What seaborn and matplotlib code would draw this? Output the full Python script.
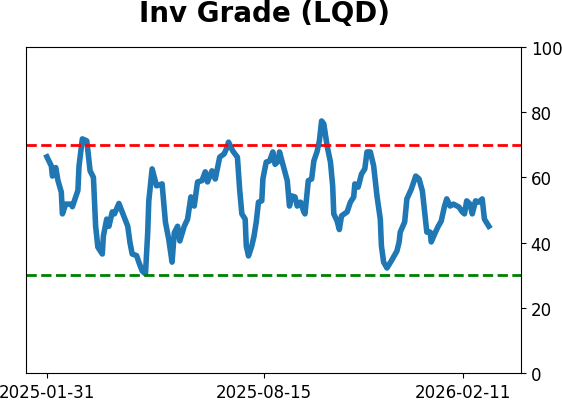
import pandas as pd
import matplotlib
matplotlib.use("Agg")
import matplotlib.pyplot as plt
import seaborn as sns

start = pd.Timestamp("2025-01-31")

# day offsets from 2025-01-31 and indicator values
days = [0, 4, 5, 8, 10, 13, 14, 17, 22, 23, 28, 29, 32, 36, 39, 42, 44, 46, 50, 51,
        54, 56, 59, 61, 65, 68, 73, 75, 77, 81, 83, 86, 89, 91, 92, 95, 99, 104, 107, 110,
        113, 115, 118, 120, 124, 127, 130, 133, 136, 140, 143, 145, 149, 152, 156, 160, 162, 164, 168, 172,
        174, 176, 179, 180, 182, 185, 187, 189, 191, 194, 195, 198, 201, 204, 206, 209, 210, 213, 217, 219,
        221, 224, 226, 229, 232, 233, 236, 239, 241, 244, 246, 248, 250, 253, 256, 258, 259, 262, 264, 266,
        271, 274, 277, 278, 281, 284, 287, 289, 292, 295, 298, 301, 302, 304, 307, 311, 316, 318, 319, 323,
        325, 329, 333, 336, 339, 341, 343, 346, 347, 350, 353, 356, 359, 361, 364, 367, 372, 375, 377, 379,
        382, 384, 387, 390, 393, 395, 399]
values = [66.3, 63.5, 60.4, 63.0, 59.0, 55.5, 48.8, 51.8, 51.8, 51.0, 56.0, 63.5, 71.8, 71.2, 62.0, 60.0, 45.0, 38.6, 36.5, 42.0,
          47.2, 45.0, 49.4, 48.8, 52.0, 49.4, 45.0, 40.0, 36.5, 36.0, 34.0, 31.3, 30.4, 43.0, 52.8, 62.6, 57.4, 58.0, 46.3, 41.0,
          34.0, 43.0, 45.0, 40.5, 45.0, 47.2, 54.0, 51.2, 58.6, 59.0, 61.7, 58.6, 62.0, 59.5, 66.2, 67.2, 68.7, 70.8, 68.0, 66.2,
          56.4, 48.8, 47.2, 39.0, 35.9, 39.0, 42.0, 46.3, 52.4, 52.8, 59.5, 64.7, 65.0, 67.8, 64.0, 65.0, 67.8, 64.0, 59.0, 51.2,
          54.3, 54.0, 51.2, 52.4, 49.4, 48.8, 59.0, 59.5, 65.0, 68.0, 71.2, 77.3, 76.4, 69.6, 64.7, 57.4, 48.8, 46.6, 44.0, 48.2,
          49.4, 52.4, 54.0, 58.0, 57.0, 61.0, 62.6, 67.8, 67.8, 63.5, 54.3, 47.2, 39.0, 34.0, 32.2, 34.4, 37.4, 40.2, 43.2, 46.3,
          53.4, 56.4, 60.4, 59.5, 55.8, 49.4, 43.2, 43.2, 40.2, 42.6, 44.8, 46.6, 51.2, 53.4, 51.2, 51.8, 50.9, 49.4, 48.8, 52.8,
          51.8, 48.8, 52.8, 52.4, 53.4, 47.2, 45.0]

tick_labels = ["2025-01-31", "2025-08-15", "2026-02-11"]
upper_level = 70
lower_level = 30

df = pd.DataFrame({"date": start + pd.to_timedelta(days, unit="D"), "value": values})

fig = plt.figure(figsize=(5.62, 4.02), dpi=100)
ax = fig.add_axes([0.046, 0.0697, 0.881, 0.811])

sns.lineplot(data=df, x="date", y="value", ax=ax, color="#1f77b4", linewidth=4)
ax.axhline(upper_level, color="red", linestyle="--", linewidth=2)
ax.axhline(lower_level, color="green", linestyle="--", linewidth=2)

ax.set_ylim(0, 100)
ax.set_xlim(start - pd.Timedelta(days=19), start + pd.Timedelta(days=428))
ax.yaxis.tick_right()
ax.set_yticks([0, 20, 40, 60, 80, 100])
ax.set_xticks(pd.to_datetime(tick_labels))
ax.set_xticklabels(tick_labels)
ax.tick_params(labelsize=12)
ax.set_xlabel("")
ax.set_ylabel("")
ax.set_title("Inv Grade (LQD)", fontsize=20, fontweight="bold", pad=19, x=0.483)

fig.savefig("out.png", dpi=100)
